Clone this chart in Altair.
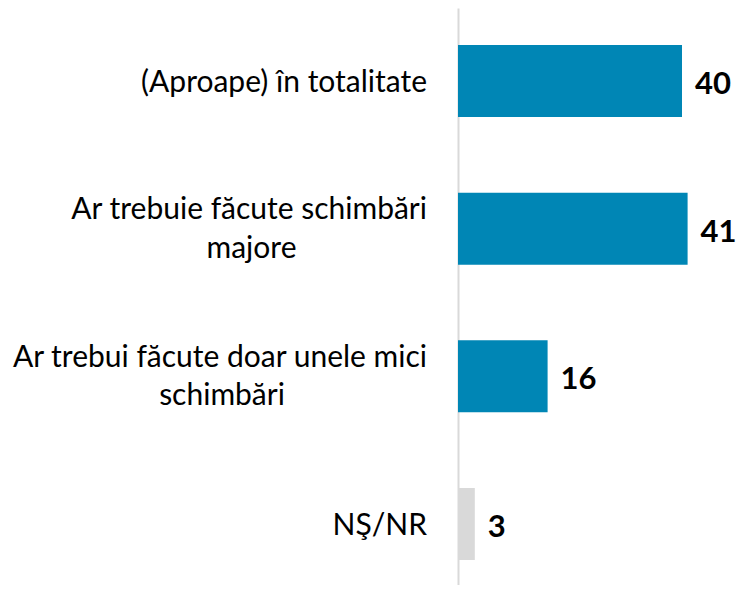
import altair as alt
import pandas as pd

categories = [
    "(Aproape) în totalitate",
    "Ar trebuie făcute schimbări majore",
    "Ar trebui făcute doar unele mici schimbări",
    "NŞ/NR",
]
label_line1 = [
    "(Aproape) în totalitate",
    "Ar trebuie făcute schimbări",
    "Ar trebui făcute doar unele mici",
    "NŞ/NR",
]
label_line2 = ["", "majore", "schimbări", ""]
values = [40, 41, 16, 3]
bar_colors = ["#0086B5", "#0086B5", "#0086B5", "#D9D9D9"]

# measured width of each label's first line (px), used to centre the second line
line1_widths = [285, 351, 410, 82]

FONT = "Lato"
LABEL_SIZE = 30
VALUE_SIZE = 31
LABEL_GAP = 31

df = pd.DataFrame({
    "cat": categories,
    "l1": label_line1,
    "l2": label_line2,
    "value": values,
    "color": bar_colors,
})

y_enc = alt.Y(
    "cat:N",
    sort=categories,
    scale=alt.Scale(paddingInner=0.512, paddingOuter=0.21, align=0.597),
    axis=alt.Axis(
        title=None, labels=False, ticks=False, domain=True,
        domainColor="#D9D9D9", domainWidth=2, grid=False,
    ),
)
x_enc = alt.X("value:Q", scale=alt.Scale(domain=[0, 45]), axis=None)

base = alt.Chart(df)

bars = base.mark_bar().encode(
    x=x_enc,
    y=y_enc,
    color=alt.Color("color:N", scale=None),
)

value_text = base.mark_text(
    align="left", baseline="alphabetic", dx=13, dy=13,
    font=FONT, fontSize=VALUE_SIZE, fontWeight="bold", color="#000000",
).encode(x=x_enc, y=y_enc, text="value:Q")

layers = [bars, value_text]

for cat, l1, l2, w in zip(categories, label_line1, label_line2, line1_widths):
    sub = base.transform_filter(alt.datum.cat == cat)
    if l2:
        layers.append(
            sub.mark_text(
                align="right", baseline="alphabetic", dx=-LABEL_GAP, dy=-9.5,
                font=FONT, fontSize=LABEL_SIZE, color="#000000",
            ).encode(x=alt.value(0), y=y_enc, text="l1:N")
        )
        layers.append(
            sub.mark_text(
                align="center", baseline="alphabetic", dx=-LABEL_GAP - w / 2, dy=29,
                font=FONT, fontSize=LABEL_SIZE, color="#000000",
            ).encode(x=alt.value(0), y=y_enc, text="l2:N")
        )
    else:
        layers.append(
            sub.mark_text(
                align="right", baseline="alphabetic", dx=-LABEL_GAP, dy=11,
                font=FONT, fontSize=LABEL_SIZE, color="#000000",
            ).encode(x=alt.value(0), y=y_enc, text="l1:N")
        )

chart = alt.layer(*layers).properties(
    width=252,
    height=577,
    autosize="none",
    padding={"left": 450, "top": 0, "right": 26, "bottom": 0},
).configure(background="white").configure_view(stroke=None, strokeWidth=0)

chart.save("out.html", embed_options={"renderer": "svg", "actions": False})
